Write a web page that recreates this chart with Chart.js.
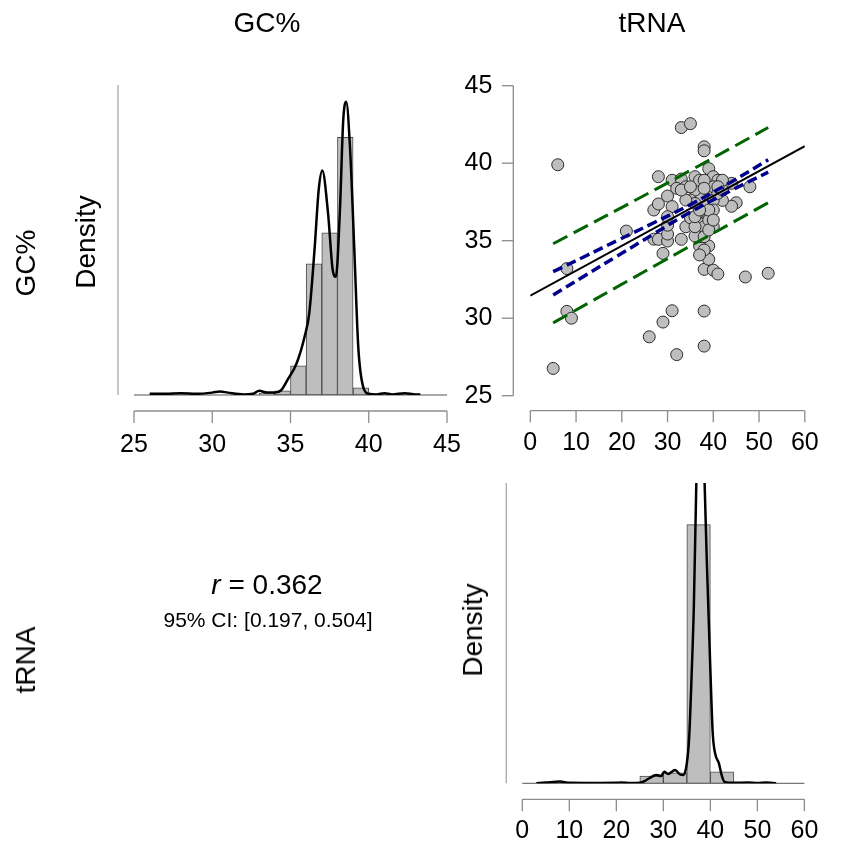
<!DOCTYPE html>
<html>
<head>
<meta charset="utf-8">
<script src="https://cdn.jsdelivr.net/npm/chart.js@4.4.0/dist/chart.umd.min.js"></script>
<style>
  body { margin: 0; background: #fff; }
  #page { position: relative; width: 851px; height: 845px; overflow: hidden;
          font-family: 'Liberation Sans', Arial, sans-serif; color: #000; }
  canvas { position: absolute; left: 0; top: 0; }
  .lbl { position: absolute; white-space: nowrap; line-height: 1; transform: translate(-50%, -50%); }
  .rot { transform: translate(-50%, -50%) rotate(-90deg); }
</style>
</head>
<body>
<div id="page">
  <canvas id="gcHist" width="851" height="845"></canvas>
  <canvas id="scatter" width="851" height="845"></canvas>
  <canvas id="trnaHist" width="851" height="845"></canvas>

  <div class="lbl" style="left:267px;top:23px;font-size:28px">GC%</div>
  <div class="lbl" style="left:652px;top:23px;font-size:28px">tRNA</div>
  <div class="lbl rot" style="left:26px;top:263px;font-size:28px">GC%</div>
  <div class="lbl rot" style="left:86px;top:242px;font-size:28px">Density</div>
  <div class="lbl rot" style="left:26px;top:660px;font-size:28px">tRNA</div>
  <div class="lbl rot" style="left:473px;top:630px;font-size:28px">Density</div>
  <div class="lbl" style="left:267px;top:585px;font-size:28px"><i>r</i> = 0.362</div>
  <div class="lbl" style="left:268px;top:619px;font-size:21px">95% CI: [0.197, 0.504]</div>
</div>
<script>
// GC% histogram (bin width 1) and its density curve
const gcBins = [33.5, 34.5, 35.5, 36.5, 37.5, 38.5, 39.5];
const gcDensity = [0.003, 0.007, 0.049, 0.221, 0.273, 0.434, 0.012];
const gcKdeX = [26, 27, 28, 29, 30, 30.5, 31, 32, 32.6, 33, 33.5, 34, 34.4, 34.8, 35.4, 35.9, 36.2, 36.55, 36.8, 37.03,
                37.4, 37.7, 37.9, 38.15, 38.37, 38.56, 38.8, 39.07, 39.33, 39.64, 40, 40.5, 41, 41.5, 42.3, 43, 43.3];
const gcKdeY = [0.002, 0.002, 0.003, 0.002, 0.004, 0.006, 0.004, 0.001, 0.002, 0.007, 0.004, 0.004, 0.008, 0.025, 0.054,
                0.098, 0.138, 0.25, 0.345, 0.378, 0.306, 0.21, 0.199, 0.306, 0.463, 0.494, 0.418, 0.25, 0.081, 0.014,
                0.002, 0.001, 0.003, 0.001, 0.003, 0.001, 0.001];

// tRNA histogram (bin width 5) and its density curve
const trnaBins = [27.5, 32.5, 37.5, 42.5];
const trnaDensity = [0.0051, 0.0072, 0.18, 0.0079];
const trnaKdeX = [3, 5, 8, 10, 15, 20, 21, 23, 25, 26, 27, 28.5, 29.5, 30.2, 31, 32.5, 33.5, 34.3, 35, 35.5, 36, 36.5,
                  37, 38, 38.8, 39.3, 40, 40.5, 41, 41.8, 42.5, 43, 45, 48, 50, 52, 54];
const trnaKdeY = [0, 0.0005, 0.0012, 0.0003, 0.0002, 0.0003, 0.0006, 0.0002, 0.0004, 0.0015, 0.0035, 0.0058, 0.0051,
                  0.0081, 0.0065, 0.0093, 0.0063, 0.0058, 0.014, 0.0325, 0.074, 0.125, 0.207, 0.33, 0.206, 0.149, 0.079,
                  0.035, 0.021, 0.014, 0.0046, 0.001, 0.0003, 0.0005, 0.0002, 0.0005, 0];

// scatter: tRNA (x) against GC% (y)
const tX = [6, 5, 8, 8, 9, 21, 26, 29, 31, 32, 38, 38, 33, 35, 38, 38, 47, 52,
            28, 27, 28, 30, 31, 27, 28, 30, 30, 30, 29, 33, 34, 35,
            31, 33, 34, 32, 36, 39, 40, 41, 44, 48, 45, 44, 42,
            38, 40, 41, 39, 39, 37, 37, 36, 37, 38, 38, 39, 38, 37, 36, 39, 40, 40, 37, 38, 38, 40, 40, 36,
            37, 35, 36, 39, 38, 39, 41, 42, 42, 34, 30, 36, 38, 37,
            33, 35, 41, 40, 37];
const gcY = [39.9, 26.76, 33.2, 30.44, 30.0, 35.62, 28.8, 29.75, 30.48, 27.65, 30.46, 28.2, 42.3, 42.55, 41.06, 40.8, 32.66, 32.9,
             39.13, 36.98, 37.37, 37.88, 37.2, 35.1, 35.09, 34.98, 35.43, 36.0, 34.18, 35.09, 35.9, 36.48,
             38.9, 38.98, 38.48, 38.38, 39.13, 39.65, 39.13, 38.9, 38.7, 38.48, 37.45, 37.22, 37.6,
             33.15, 33.1, 32.85, 33.8, 34.66, 34.66, 35.26, 35.3, 36.12, 36.83, 35.9, 36.33, 37.62, 37.84, 38.27, 38.27,
             37.62, 38.48, 38.9, 38.9, 38.38, 36.98, 35.9, 35.9, 36.87, 37.62, 37.4, 36.98, 35.26, 35.69, 38.05, 38.27,
             38.9, 37.62, 36.55, 36.55, 34.4, 34.08,
             38.27, 38.48, 38.48, 36.33, 36.98];

// fitted line, 95% confidence band, 95% prediction band
const fitX = [0, 60];
const fitY = [31.45, 41.1];
const ciX = [5, 12, 19, 27, 35, 44, 52];
const ciUpper = [33.0, 34.0, 35.01, 36.16, 37.33, 38.81, 40.22];
const ciLower = [31.5, 32.76, 34.01, 35.44, 36.85, 38.25, 39.42];
const piX = [5, 28, 52];
const piUpper = [34.8, 38.41, 42.3];
const piLower = [29.7, 33.51, 37.45];

const xy = (xs, ys) => xs.map((v, i) => ({ x: v, y: ys[i] }));

Chart.defaults.font.family = "'Liberation Sans', Arial, sans-serif";
Chart.defaults.color = '#000';

// JASP style axes: detached from the plot region, drawn between the outer ticks
const jaspAxes = {
    id: 'jaspAxes',
    beforeDatasetsDraw(chart, args, o) {
        const { ctx, chartArea: a, scales: { x, y } } = chart;
        const seg = (x1, y1, x2, y2) => { ctx.beginPath(); ctx.moveTo(x1, y1); ctx.lineTo(x2, y2); ctx.stroke(); };
        ctx.save();
        ctx.lineWidth = 1.3;
        ctx.strokeStyle = '#8c8c8c';
        const xt = x.ticks.map(t => x.getPixelForValue(t.value));
        const ly = a.bottom + o.xGap;
        seg(xt[0], ly, xt[xt.length - 1], ly);
        xt.forEach(p => seg(p, ly, p, ly + o.tickLen));
        const lx = a.left - o.yGap;
        if (o.density) {
            ctx.strokeStyle = '#a8a8a8';
            seg(lx, y.getPixelForValue(0), lx, y.getPixelForValue(y.max));
            ctx.strokeStyle = '#555555';
            ctx.lineWidth = 1;
            const y0 = y.getPixelForValue(0);
            seg(x.getPixelForValue(x.min), y0, x.getPixelForValue(x.max), y0);
        } else {
            const yt = y.ticks.map(t => y.getPixelForValue(t.value));
            seg(lx, yt[0], lx, yt[yt.length - 1]);
            yt.forEach(p => seg(lx - o.tickLen, p, lx, p));
        }
        ctx.restore();
    }
};

function xScale(min, max, step, pad, h) {
    return {
        type: 'linear', min: min, max: max, offset: false,
        ticks: { stepSize: step, padding: pad, font: { size: 25 }, color: '#000', maxRotation: 0, autoSkip: false },
        grid: { display: false, drawTicks: false },
        border: { display: false },
        afterFit: s => { s.height = h; }
    };
}

function histChart(id, bins, dens, kdeX, kdeY, xMin, xMax, step, yMax, labelPad, axisH, padding) {
    return new Chart(document.getElementById(id), {
        type: 'bar',
        data: {
            datasets: [{
                type: 'line',
                data: xy(kdeX, kdeY),
                borderColor: '#000',
                borderWidth: 2.5,
                pointRadius: 0,
                cubicInterpolationMode: 'monotone',
                order: 1
            }, {
                data: xy(bins, dens),
                backgroundColor: '#bebebe',
                borderColor: '#4d4d4d',
                borderWidth: 1,
                borderSkipped: false,
                barPercentage: 1,
                categoryPercentage: 1,
                order: 2
            }]
        },
        options: {
            responsive: false,
            animation: false,
            layout: { padding: padding },
            plugins: {
                legend: { display: false },
                tooltip: { enabled: false },
                jaspAxes: { xGap: 16, yGap: 16, tickLen: 12, density: true }
            },
            scales: {
                x: xScale(xMin, xMax, step, labelPad, axisH),
                y: { display: false, min: 0, max: yMax }
            }
        },
        plugins: [jaspAxes]
    });
}

histChart('gcHist', gcBins, gcDensity, gcKdeX, gcKdeY, 25, 45, 5, 0.522, 35, 70,
          { left: 134, top: 85, right: 404, bottom: 380 });
histChart('trnaHist', trnaBins, trnaDensity, trnaKdeX, trnaKdeY, 0, 60, 10, 0.209, 32.7, 61.7,
          { left: 522.3, top: 483, right: 16, bottom: 0 });

new Chart(document.getElementById('scatter'), {
    type: 'scatter',
    data: {
        datasets: [{
            data: xy(fitX, fitY), showLine: true, borderColor: '#000', borderWidth: 2, pointRadius: 0, order: 1
        }, {
            data: xy(ciX, ciUpper), showLine: true, borderColor: '#00008b', borderWidth: 3.5, borderDash: [10, 5],
            pointRadius: 0, tension: 0.4, order: 1
        }, {
            data: xy(ciX, ciLower), showLine: true, borderColor: '#00008b', borderWidth: 3.5, borderDash: [10, 5],
            pointRadius: 0, tension: 0.4, order: 1
        }, {
            data: xy(piX, piUpper), showLine: true, borderColor: '#006400', borderWidth: 3, borderDash: [16, 7],
            pointRadius: 0, tension: 0.4, order: 1
        }, {
            data: xy(piX, piLower), showLine: true, borderColor: '#006400', borderWidth: 3, borderDash: [16, 7],
            pointRadius: 0, tension: 0.4, order: 1
        }, {
            data: xy(tX, gcY), backgroundColor: '#bebebe', borderColor: '#2b2b2b', borderWidth: 1,
            pointRadius: 6, order: 2
        }]
    },
    options: {
        responsive: false,
        animation: false,
        layout: { padding: { left: 450.3, top: 85.7, right: 15.3, bottom: 379.3 } },
        plugins: {
            legend: { display: false },
            tooltip: { enabled: false },
            jaspAxes: { xGap: 15, yGap: 17, tickLen: 11.5 }
        },
        scales: {
            x: xScale(0, 60, 10, 32.3, 70),
            y: {
                type: 'linear', min: 25, max: 45,
                ticks: { stepSize: 5, padding: 38, font: { size: 25 }, color: '#000' },
                grid: { display: false, drawTicks: false },
                border: { display: false },
                afterFit: s => { s.width = 80; }
            }
        }
    },
    plugins: [jaspAxes]
});
</script>
</body>
</html>
